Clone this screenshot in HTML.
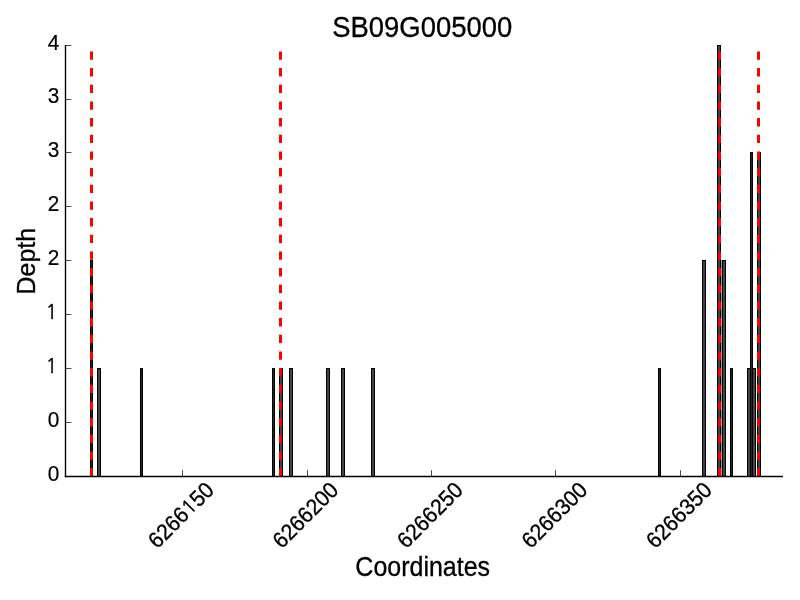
<!DOCTYPE html>
<html><head><meta charset="utf-8"><title>SB09G005000</title>
<style>
html,body{margin:0;padding:0;background:#fff;}
svg{display:block;font-family:"Liberation Sans",sans-serif;fill:#000;}
</style></head><body>
<svg width="800" height="600" viewBox="0 0 800 600">
<rect width="800" height="600" fill="#fff"/>
<g shape-rendering="crispEdges">
<rect x="90" y="260" width="3" height="216" fill="#000"/>
<rect x="91" y="261" width="1" height="215" fill="#262626"/>
<rect x="97" y="368" width="4" height="108" fill="#000"/>
<rect x="98" y="369" width="2" height="107" fill="#444"/>
<rect x="140" y="368" width="3" height="108" fill="#000"/>
<rect x="141" y="369" width="1" height="107" fill="#262626"/>
<rect x="272" y="368" width="3" height="108" fill="#000"/>
<rect x="273" y="369" width="1" height="107" fill="#262626"/>
<rect x="279" y="368" width="4" height="108" fill="#000"/>
<rect x="280" y="369" width="2" height="107" fill="#444"/>
<rect x="289" y="368" width="4" height="108" fill="#000"/>
<rect x="290" y="369" width="2" height="107" fill="#444"/>
<rect x="326" y="368" width="4" height="108" fill="#000"/>
<rect x="327" y="369" width="2" height="107" fill="#444"/>
<rect x="341" y="368" width="4" height="108" fill="#000"/>
<rect x="342" y="369" width="2" height="107" fill="#444"/>
<rect x="371" y="368" width="4" height="108" fill="#000"/>
<rect x="372" y="369" width="2" height="107" fill="#444"/>
<rect x="658" y="368" width="3" height="108" fill="#000"/>
<rect x="659" y="369" width="1" height="107" fill="#262626"/>
<rect x="702" y="260" width="4" height="216" fill="#000"/>
<rect x="703" y="261" width="2" height="215" fill="#444"/>
<rect x="717" y="45" width="4" height="431" fill="#000"/>
<rect x="718" y="46" width="2" height="430" fill="#444"/>
<rect x="722" y="260" width="4" height="216" fill="#000"/>
<rect x="723" y="261" width="2" height="215" fill="#444"/>
<rect x="730" y="368" width="3" height="108" fill="#000"/>
<rect x="731" y="369" width="1" height="107" fill="#262626"/>
<rect x="747" y="368" width="4" height="108" fill="#000"/>
<rect x="748" y="369" width="2" height="107" fill="#444"/>
<rect x="750" y="152" width="3" height="324" fill="#000"/>
<rect x="751" y="153" width="1" height="323" fill="#262626"/>
<rect x="752" y="368" width="4" height="108" fill="#000"/>
<rect x="753" y="369" width="2" height="107" fill="#444"/>
<rect x="757" y="152" width="4" height="324" fill="#000"/>
<rect x="758" y="153" width="2" height="323" fill="#444"/>
<rect x="721" y="260" width="1" height="216" fill="#9c9c9c"/>
</g>
<line x1="91.5" y1="476.4" x2="91.5" y2="45.2" stroke="#f00" stroke-width="3" stroke-dasharray="8.333 8.333"/>
<line x1="280.5" y1="476.4" x2="280.5" y2="45.2" stroke="#f00" stroke-width="3" stroke-dasharray="8.333 8.333"/>
<line x1="719.5" y1="476.4" x2="719.5" y2="45.2" stroke="#f00" stroke-width="3" stroke-dasharray="8.333 8.333"/>
<line x1="758.5" y1="476.4" x2="758.5" y2="45.2" stroke="#f00" stroke-width="3" stroke-dasharray="8.333 8.333"/>
<line x1="65.5" y1="44.9" x2="65.5" y2="477.2" stroke="#000" stroke-width="1.39"/>
<line x1="64.8" y1="476.5" x2="783" y2="476.5" stroke="#000" stroke-width="1.39"/>
<line x1="65.5" y1="476.50" x2="71.4" y2="476.50" stroke="#000" stroke-width="0.7"/>
<text transform="translate(59.3,480.50) scale(1,1.035)" font-size="20.83" text-anchor="end" stroke="#000" stroke-width="0.2">0</text>
<line x1="65.5" y1="422.50" x2="71.4" y2="422.50" stroke="#000" stroke-width="0.7"/>
<text transform="translate(59.3,426.62) scale(1,1.035)" font-size="20.83" text-anchor="end" stroke="#000" stroke-width="0.2">0</text>
<line x1="65.5" y1="368.50" x2="71.4" y2="368.50" stroke="#000" stroke-width="0.7"/>
<text transform="translate(57.2,372.65) scale(1,1.0)" font-size="19" text-anchor="end" font-family="NanumGothic,'Liberation Sans',sans-serif" stroke="#000" stroke-width="0.4">1</text>
<line x1="65.5" y1="314.50" x2="71.4" y2="314.50" stroke="#000" stroke-width="0.7"/>
<text transform="translate(57.2,318.77) scale(1,1.0)" font-size="19" text-anchor="end" font-family="NanumGothic,'Liberation Sans',sans-serif" stroke="#000" stroke-width="0.4">1</text>
<line x1="65.5" y1="260.50" x2="71.4" y2="260.50" stroke="#000" stroke-width="0.7"/>
<text transform="translate(59.3,265.00) scale(1,1.035)" font-size="20.83" text-anchor="end" stroke="#000" stroke-width="0.2">2</text>
<line x1="65.5" y1="206.50" x2="71.4" y2="206.50" stroke="#000" stroke-width="0.7"/>
<text transform="translate(59.3,211.12) scale(1,1.035)" font-size="20.83" text-anchor="end" stroke="#000" stroke-width="0.2">2</text>
<line x1="65.5" y1="152.50" x2="71.4" y2="152.50" stroke="#000" stroke-width="0.7"/>
<text transform="translate(59.3,157.25) scale(1,1.035)" font-size="20.83" text-anchor="end" stroke="#000" stroke-width="0.2">3</text>
<line x1="65.5" y1="99.50" x2="71.4" y2="99.50" stroke="#000" stroke-width="0.7"/>
<text transform="translate(59.3,103.37) scale(1,1.035)" font-size="20.83" text-anchor="end" stroke="#000" stroke-width="0.2">3</text>
<line x1="65.5" y1="45.50" x2="71.4" y2="45.50" stroke="#000" stroke-width="0.7"/>
<text transform="translate(59.3,49.50) scale(1,1.035)" font-size="20.83" text-anchor="end" stroke="#000" stroke-width="0.2">4</text>
<line x1="182.50" y1="476.2" x2="182.50" y2="470.2" stroke="#000" stroke-width="0.7"/>
<text transform="translate(157.20,549.5) rotate(-45) scale(1.0,1.06)" font-size="21.1" stroke="#000" stroke-width="0.3">6266<tspan font-family="NanumGothic,'Liberation Sans',sans-serif" font-size="18.4" stroke-width="0.4" dx="0.2" dy="-0.8">1</tspan><tspan dx="0.4" dy="0.8">5</tspan>0</text>
<line x1="307.50" y1="476.2" x2="307.50" y2="470.2" stroke="#000" stroke-width="0.7"/>
<text transform="translate(281.70,549.5) rotate(-45) scale(1.0,1.06)" font-size="21.1" stroke="#000" stroke-width="0.3">6266200</text>
<line x1="431.50" y1="476.2" x2="431.50" y2="470.2" stroke="#000" stroke-width="0.7"/>
<text transform="translate(406.20,549.5) rotate(-45) scale(1.0,1.06)" font-size="21.1" stroke="#000" stroke-width="0.3">6266250</text>
<line x1="555.50" y1="476.2" x2="555.50" y2="470.2" stroke="#000" stroke-width="0.7"/>
<text transform="translate(530.70,549.5) rotate(-45) scale(1.0,1.06)" font-size="21.1" stroke="#000" stroke-width="0.3">6266300</text>
<line x1="680.50" y1="476.2" x2="680.50" y2="470.2" stroke="#000" stroke-width="0.7"/>
<text transform="translate(655.20,549.5) rotate(-45) scale(1.0,1.06)" font-size="21.1" stroke="#000" stroke-width="0.3">6266350</text>
<text transform="translate(422.2,37.3) scale(0.988,1.05)" font-size="27.78" text-anchor="middle" stroke="#000" stroke-width="0.3">SB09G005000</text>
<text transform="translate(422.7,576.1) scale(1,1.075)" font-size="25" text-anchor="middle" stroke="#000" stroke-width="0.3">Coordinates</text>
<text transform="translate(34.8,261.2) rotate(-90) scale(1,1.05)" font-size="25" text-anchor="middle" stroke="#000" stroke-width="0.3">Depth</text>
</svg>
</body></html>
